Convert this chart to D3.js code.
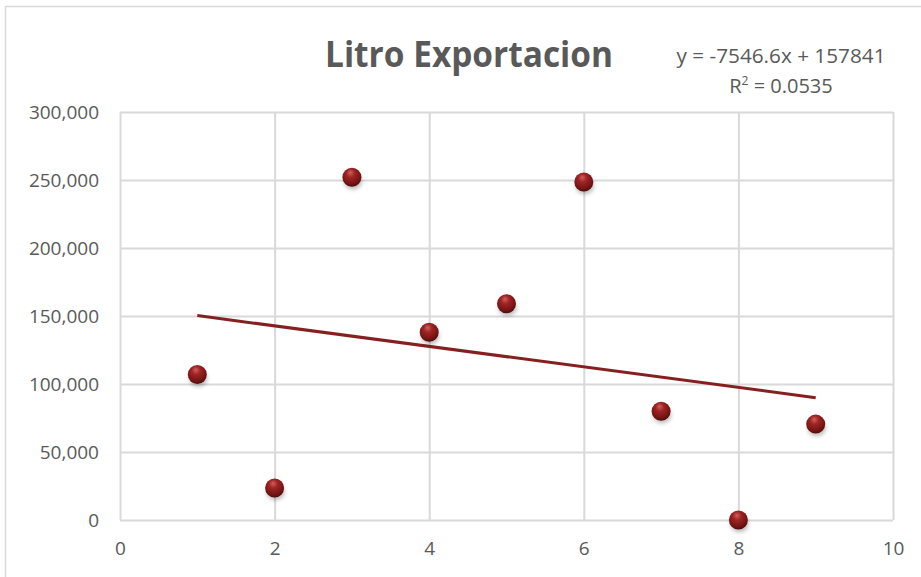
<!DOCTYPE html>
<html>
<head>
<meta charset="utf-8">
<script src="https://cdn.jsdelivr.net/npm/d3@7"></script>
<style>
  html, body { margin: 0; padding: 0; background: #fff; }
  svg { display: block; }
  text { font-family: "Liberation Sans Narrow", "Open Sans", "DejaVu Sans Condensed", sans-serif; }
</style>
</head>
<body>
<svg id="chart" width="921" height="577"></svg>
<script>
// Observations (x = period, y = litres exported)
const xValues = [1, 2, 3, 4, 5, 6, 7, 8, 9];
const yValues = [107000, 23500, 252000, 138000, 159000, 248500, 80000, 0, 70500];

// Axis ticks
const xTicks = [0, 2, 4, 6, 8, 10];
const yTicks = [0, 50000, 100000, 150000, 200000, 250000, 300000];

// Linear trend line as reported in the equation label
const trendSlope = -7546.6;
const trendIntercept = 157841;
const trendR2 = 0.0535;

const title = "Litro Exportacion";

const svg = d3.select("#chart");
const W = 921, H = 577;
const plot = { left: 120, right: 893, top: 112, bottom: 520 };

// Chart frame
svg.append("rect")
  .attr("x", 5.5).attr("y", 6.5)
  .attr("width", W + 10).attr("height", H + 10)
  .attr("fill", "#fff").attr("stroke", "#d9d9d9").attr("stroke-width", 1.5);

const x = d3.scaleLinear().domain([0, 10]).range([plot.left, plot.right]);
const y = d3.scaleLinear().domain([0, 300000]).range([plot.bottom, plot.top]);

const gridColor = "#d9d9d9";
const textColor = "#595959";

// Horizontal gridlines + y labels
const yAxis = d3.axisLeft(y).tickValues(yTicks)
  .tickFormat(d3.format(","))
  .tickSize(-(plot.right - plot.left)).tickPadding(21);
const gy = svg.append("g").attr("transform", `translate(${plot.left},0)`).call(yAxis);
gy.select(".domain").remove();
gy.selectAll(".tick line").attr("stroke", gridColor).attr("stroke-width", 2);
gy.selectAll(".tick text").attr("fill", textColor).attr("font-size", 19)
  .attr("dy", "0.35em");

// Vertical gridlines + x labels
const xAxis = d3.axisBottom(x).tickValues(xTicks)
  .tickFormat(d3.format("d"))
  .tickSize(-(plot.bottom - plot.top)).tickPadding(22);
const gx = svg.append("g").attr("transform", `translate(0,${plot.bottom})`).call(xAxis);
gx.select(".domain").remove();
gx.selectAll(".tick line").attr("stroke", gridColor).attr("stroke-width", 2);
gx.selectAll(".tick text").attr("fill", textColor).attr("font-size", 19);

// Sphere-like marker fill
const defs = svg.append("defs");
const grad = defs.append("radialGradient").attr("id", "ball")
  .attr("cx", "45%").attr("cy", "35%").attr("r", "65%").attr("fx", "42%").attr("fy", "25%");
grad.append("stop").attr("offset", "0%").attr("stop-color", "#d0605c");
grad.append("stop").attr("offset", "35%").attr("stop-color", "#9e2424");
grad.append("stop").attr("offset", "80%").attr("stop-color", "#741414");
grad.append("stop").attr("offset", "100%").attr("stop-color", "#4e0a0a");
const shadow = defs.append("filter").attr("id", "shadow")
  .attr("x", "-50%").attr("y", "-50%").attr("width", "200%").attr("height", "200%");
shadow.append("feGaussianBlur").attr("stdDeviation", 2);

// Trend line from x = 1 to x = 9
const trendX = [d3.min(xValues), d3.max(xValues)];
svg.append("line")
  .attr("x1", x(trendX[0])).attr("y1", y(trendSlope * trendX[0] + trendIntercept))
  .attr("x2", x(trendX[1])).attr("y2", y(trendSlope * trendX[1] + trendIntercept))
  .attr("stroke", "#862020").attr("stroke-width", 3);

const pts = xValues.map((v, i) => ({ x: v, y: yValues[i] }));

// Soft shadows under the markers
svg.append("g").selectAll("ellipse").data(pts).join("ellipse")
  .attr("cx", d => x(d.x) + 1).attr("cy", d => y(d.y) + 4)
  .attr("rx", 9).attr("ry", 8)
  .attr("fill", "rgba(0,0,0,0.28)").attr("filter", "url(#shadow)");

svg.append("g").selectAll("circle").data(pts).join("circle")
  .attr("cx", d => x(d.x)).attr("cy", d => y(d.y))
  .attr("r", 9.5).attr("fill", "url(#ball)");

// Title
svg.append("text")
  .attr("x", 469).attr("y", 67).attr("text-anchor", "middle")
  .attr("font-size", 35).attr("font-weight", "bold").attr("fill", textColor)
  .attr("textLength", 288).attr("lengthAdjust", "spacingAndGlyphs")
  .text(title);

// Trend equation label
svg.append("text").attr("fill", textColor).attr("font-size", 20)
  .attr("x", 781).attr("y", 63).attr("text-anchor", "middle")
  .attr("textLength", 209).attr("lengthAdjust", "spacingAndGlyphs")
  .text(`y = ${trendSlope}x + ${trendIntercept}`);
const r2 = svg.append("text").attr("fill", textColor).attr("font-size", 20)
  .attr("x", 781).attr("y", 93).attr("text-anchor", "middle");
r2.append("tspan").text("R");
r2.append("tspan").attr("font-size", 12).attr("dy", -8).text("2");
r2.append("tspan").attr("dy", 8).text(` = ${trendR2}`);
</script>
</body>
</html>
